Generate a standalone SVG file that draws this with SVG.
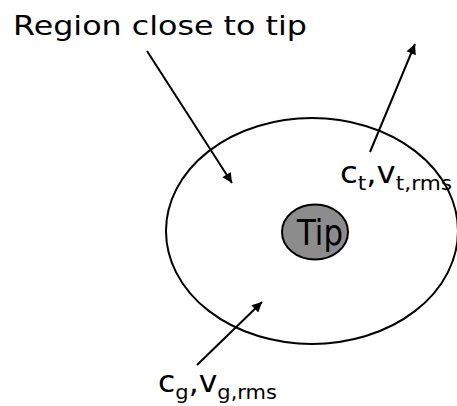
<svg xmlns="http://www.w3.org/2000/svg" width="457" height="406" viewBox="0 0 457 406">
<style>
.t{font-family:"DejaVu Sans",Verdana,sans-serif;fill:#000}
.c{fill:none;stroke:#000;stroke-width:2}
</style>
<defs>
<marker id="ah" viewBox="0 0 10 10" refX="9" refY="5" markerWidth="6" markerHeight="6" markerUnits="userSpaceOnUse" orient="auto">
<path d="M0,0 L10,5 L0,10 z" fill="#000"/>
</marker>
<marker id="a" viewBox="0 0 10 10" refX="10" refY="5" markerWidth="12" markerHeight="10" markerUnits="userSpaceOnUse" orient="auto">
<path d="M0,0 L10,5 L0,10 z" fill="#000"/>
</marker>
</defs>
<rect width="457" height="406" fill="#fff"/>
<g id="title">
<text class="t" x="13" y="35" font-size="27" textLength="294" lengthAdjust="spacingAndGlyphs">Region close to tip</text>
</g>
<g id="region">
<ellipse cx="312" cy="231" rx="146" ry="113" class="c" stroke-width="1.6"/>
</g>
<g id="tip">
<ellipse cx="315" cy="232" rx="33" ry="27.5" fill="#8c8c8c" stroke="#000" stroke-width="2"/>
<text class="t" x="297" y="245" font-size="36" textLength="46" lengthAdjust="spacingAndGlyphs">Tip</text>
</g>
<g id="label-t">
<text class="t" x="340" y="183" font-size="30" textLength="112" lengthAdjust="spacingAndGlyphs">c<tspan font-size="20" dy="7">t</tspan><tspan dy="-7">,v</tspan><tspan font-size="20" dy="7">t,rms</tspan></text>
</g>
<g id="label-g">
<text class="t" x="158" y="392" font-size="30" textLength="119" lengthAdjust="spacingAndGlyphs">c<tspan font-size="20" dy="7">g</tspan><tspan dy="-7">,v</tspan><tspan font-size="20" dy="7">g,rms</tspan></text>
</g>
<g id="connectors">
<line x1="147" y1="51" x2="232" y2="183" class="c" marker-end="url(#a)"/>
<line x1="370" y1="152" x2="415" y2="44" class="c" marker-end="url(#a)"/>
<line x1="197" y1="365" x2="262" y2="302" class="c" marker-end="url(#a)"/>
</g>
</svg>
